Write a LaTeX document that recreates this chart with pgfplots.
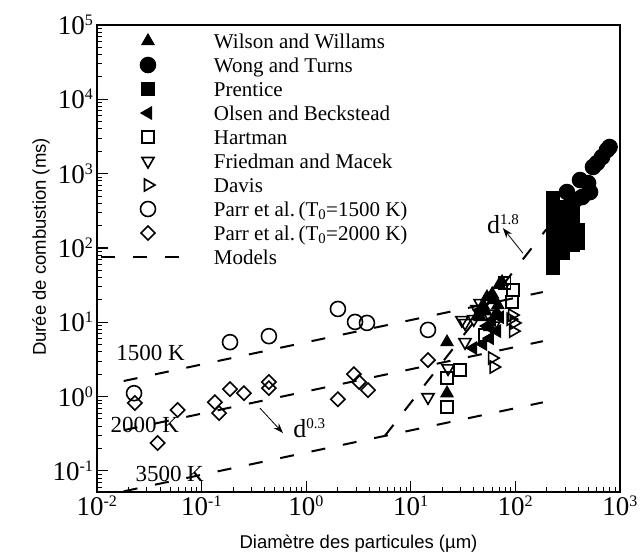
\documentclass[border=0pt]{standalone}
\usepackage{fontspec}
\setmainfont{Liberation Serif}
\setsansfont{Liberation Sans}
\usepackage{pgfplots}
\pgfplotsset{compat=1.18}
\usetikzlibrary{arrows.meta}

\newcommand{\tp}[1]{10\textsuperscript{\fontsize{16}{16}\selectfont #1}}

\begin{document}
\begin{tikzpicture}
\path[use as bounding box] (-97pt,-64pt) rectangle (543pt,492pt);
\begin{axis}[
  at={(0pt,0pt)}, anchor=south west,
  scale only axis, width=523pt, height=467pt,
  xmode=log, ymode=log,
  xmin=0.01, xmax=1000, ymin=0.052, ymax=1e5,
  axis line style={line width=1.8pt},
  tick pos=left, tick align=inside,
  major tick length=11pt, minor tick length=5pt,
  tick style={black, line width=1.2pt},
  minor tick style={line width=0.9pt},
  xtick={0.01,0.1,1,10,100,1000},
  xticklabels={\tp{-2},\tp{-1},\tp{0},\tp{1},\tp{2},\tp{3}},
  minor xtick={0.02,0.03,0.04,0.05,0.06,0.07,0.08,0.09,
    0.2,0.3,0.4,0.5,0.6,0.7,0.8,0.9,2,3,4,5,6,7,8,9,
    20,30,40,50,60,70,80,90,200,300,400,500,600,700,800,900},
  ytick={0.1,1,10,100,1000,10000,100000},
  yticklabels={\tp{-1},\tp{0},\tp{1},\tp{2},\tp{3},\tp{4},\tp{5}},
  minor ytick={0.06,0.07,0.08,0.09,0.2,0.3,0.4,0.5,0.6,0.7,0.8,0.9,
    2,3,4,5,6,7,8,9,20,30,40,50,60,70,80,90,200,300,400,500,600,700,800,900,
    2000,3000,4000,5000,6000,7000,8000,9000,
    20000,30000,40000,50000,60000,70000,80000,90000},
  ticklabel style={font=\fontsize{27}{30}\selectfont},
  xlabel={Diamètre des particules (µm)},
  ylabel={Durée de combustion (ms)},
  every axis x label/.style={at={(axis description cs:0.5,-0.12)}, anchor=base,
    font=\sffamily\fontsize{18.5}{20}\selectfont},
  every axis y label/.style={at={(axis description cs:-0.107,0.5246)}, anchor=center,
    rotate=90, font=\sffamily\fontsize{18.5}{20}\selectfont},
  legend image code/.code={\draw[mark repeat=2,mark phase=2,#1]
    plot coordinates {(-47pt,0pt) (0pt,0pt) (36pt,0pt)};},
  legend cell align=left,
  legend style={draw=none, fill=none, inner sep=0pt, outer sep=0pt,
    at={(0.0057,0.9914)}, anchor=north west,
    font=\fontsize{21}{24}\selectfont, row sep=0pt, column sep=29pt,
    nodes={inner sep=0pt, text height=19pt, text depth=5pt}},
]

% Wilson and Willams
\addplot[only marks, black, line width=1.6pt, mark=triangle*, mark size=6.5pt] coordinates {
  (22.2,5.4) (22.2,1.11) (74.5,34.8) (70,32) (53.5,21.8) (61,19.9) (46,11.7)
  (66.7,13.3) (57,8.6) (49,17) (60,24) (68,17) (52,14) (43,12)
};
\addlegendentry{Wilson and Willams}

% Wong and Turns
\addplot[only marks, black, line width=1.6pt, mark=*, mark size=7.5pt] coordinates {
  (311,565) (415,820) (495,746) (517,565) (434,484) (372,442)
  (552,1230) (603,1390) (673,1670) (751,2080) (795,2280)
};
\addlegendentry{Wong and Turns}

% Prentice
\addplot[only marks, black, line width=1.6pt, mark=square*, mark size=6pt] coordinates {
  (229,470) (229,324) (229,223) (229,158) (229,109) (229,75.5) (229,53.7)
  (285,355) (285,252) (285,174) (285,120) (285,85)
  (355,324) (355,223) (355,158) (355,109)
  (396,174) (396,116)
};
\addlegendentry{Prentice}

% Olsen and Beckstead
\addplot[only marks, black, line width=1.6pt, mark=triangle*, mark size=6.5pt, mark options={rotate=90}] coordinates {
  (39.4,4.5) (49,5.1) (57,6.1) (66.7,7.6) (59.7,10.7) (71,11.7) (53.5,8.9) (46,14.6)
};
\addlegendentry{Olsen and Beckstead}

% Hartman
\addplot[only marks, black, line width=1.6pt, mark=square, mark size=6pt] coordinates {
  (95,27) (93,18.7) (79,33.6) (51,6.7) (29.5,2.28) (22.2,1.78) (22.2,0.72)
};
\addlegendentry{Hartman}

% Friedman and Macek
\addplot[only marks, black, line width=1.6pt, mark=triangle, mark size=7pt, mark options={rotate=180}] coordinates {
  (14.6,0.98) (22.7,2.4) (33,9.75) (33,5.4) (46,18.1) (43,15) (40,11)
  (55,13) (62,9) (30.8,10.7)
};
\addlegendentry{Friedman and Macek}

% Davis
\addplot[only marks, black, line width=1.6pt, mark=triangle, mark size=7pt, mark options={rotate=-90}] coordinates {
  (60,3.3) (62,2.5) (93,12.5) (97,9.8) (95,7.6) (90,11)
};
\addlegendentry{Davis}

% Parr et al. T0=1500 K
\addplot[only marks, black, line width=1.6pt, mark=o, mark size=7.5pt] coordinates {
  (0.0226,1.11) (0.187,5.4) (0.44,6.5) (2.01,15.1) (2.93,10.1) (3.81,9.8) (14.6,7.9)
};
\addlegendentry{Parr et al.\,(T\textsubscript{0}=1500 K)}

% Parr et al. T0=2000 K
\addplot[only marks, black, line width=1.6pt, mark=square, mark size=5pt, mark options={rotate=45}] coordinates {
  (0.023,0.82) (0.038,0.237) (0.059,0.66) (0.134,0.84) (0.147,0.60) (0.187,1.26)
  (0.254,1.11) (0.44,1.57) (0.44,1.30) (2.01,0.92) (2.86,2.0) (3.2,1.57)
  (3.9,1.22) (14.6,3.1)
};
\addlegendentry{Parr et al.\,(T\textsubscript{0}=2000 K)}

% Models
\addplot[black, line width=2pt, dash pattern=on 14pt off 18pt] coordinates {
  (0.018,1.62) (183,25.5)
};
\addlegendentry{Models}
\addplot[black, line width=2pt, dash pattern=on 14pt off 18pt, forget plot] coordinates {
  (0.018,0.353) (183,5.56)
};
\addplot[black, line width=2pt, dash pattern=on 14pt off 18pt, forget plot] coordinates {
  (0.018,0.0531) (183,0.836)
};
\addplot[black, line width=2pt, dash pattern=on 14pt off 18pt, forget plot] coordinates {
  (5.65,0.296) (197,177)
};

\node[anchor=base west, font=\fontsize{23}{26}\selectfont] at (axis cs:0.0142,3.1) {1500 K};
\node[anchor=base west, font=\fontsize{23}{26}\selectfont] at (axis cs:0.0125,0.333) {2000 K};
\node[anchor=base west, font=\fontsize{23}{26}\selectfont] at (axis cs:0.0216,0.073) {3500 K};

\draw[-{Stealth[length=10pt,width=7pt]}, line width=0.8pt] (axis cs:0.361,0.70) -- (axis cs:0.60,0.323);
\node[anchor=base west, font=\fontsize{26}{28}\selectfont, inner sep=0pt] at (axis cs:0.75,0.285)
  {d\textsuperscript{\fontsize{15}{15}\selectfont 0.3}};
\draw[-{Stealth[length=10pt,width=7pt]}, line width=0.8pt] (axis cs:118,85) -- (axis cs:76,185);
\node[anchor=base west, font=\fontsize{26}{28}\selectfont, inner sep=0pt] at (axis cs:53.5,158)
  {d\textsuperscript{\fontsize{15}{15}\selectfont 1.8}};

\end{axis}
\end{tikzpicture}
\end{document}
